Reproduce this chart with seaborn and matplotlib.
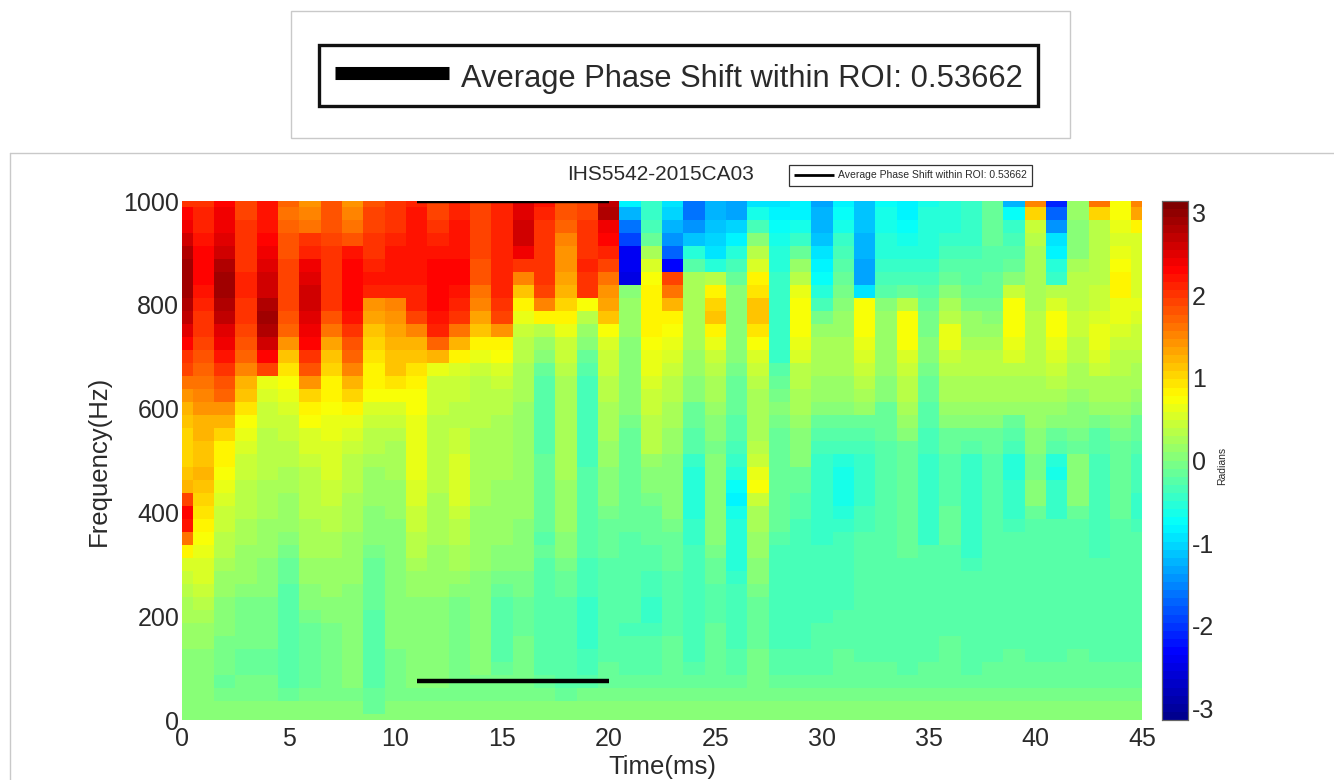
import matplotlib
matplotlib.use('Agg')
import matplotlib.pyplot as plt
from matplotlib.colors import LinearSegmentedColormap
from matplotlib.lines import Line2D
from matplotlib.patches import Rectangle
import numpy as np
import pandas as pd
import seaborn as sns

# Frequency rows, top to bottom, and time columns of the phase map
freqs = [1000, 975, 950, 925, 900, 875, 850, 825, 800, 775, 750, 725, 700, 675, 650, 625, 600, 575, 550, 525,
         500, 475, 450, 425, 400, 375, 350, 325, 300, 275, 250, 225, 200, 175, 150, 125, 100, 75, 50, 25, 0]
times = [0, 1, 2, 3, 4, 5, 6, 7, 8, 9, 10, 11, 12, 13, 14, 15, 16, 17, 18, 19, 20, 21, 22,
         23, 24, 25, 26, 27, 28, 29, 30, 31, 32, 33, 34, 35, 36, 37, 38, 39, 40, 41, 42, 43, 44, 45]

# Phase shift (radians) per time column, 1000 Hz first
t00 = [2.0, 2.3, 2.45, 2.6, 2.8, 2.9, 2.9, 2.9, 2.8, 2.7, 2.5, 2.35, 2.0, 1.9, 1.6, 1.4, 1.25, 1.1, 1.0, 1.0,
       1.0, 1.1, 1.2, 1.9, 2.3, 2.2, 1.6, .8, .55, .45, .35, .25, .2, .15, .1, .05, .05, .05, .05, .05, .05]
t01 = [2.0, 2.1, 2.15, 2.25, 2.3, 2.3, 2.3, 2.25, 2.15, 2.05, 2.0, 1.9, 1.8, 1.7, 1.6, 1.5, 1.4, 1.25, 1.2, 1.15,
       1.15, 1.2, 1.15, 1.05, .9, .8, .75, .65, .55, .5, .4, .3, .25, .15, .1, .05, .05, .05, .05, .05, .05]
t02 = [2.35, 2.4, 2.45, 2.55, 2.65, 2.75, 2.85, 2.9, 2.8, 2.7, 2.55, 2.4, 2.2, 2.0, 1.8, 1.7, 1.45, 1.2, 1.05, .85,
       .8, .75, .6, .5, .45, .4, .35, .3, .2, .15, .1, .05, .05, 0, -.05, -.05, -.05, -.1, -.05, 0, .05]
t03 = [1.95, 1.95, 2.0, 2.05, 2.05, 2.05, 2.1, 2.1, 2.05, 2.0, 1.95, 1.8, 1.7, 1.5, 1.25, 1.1, .9, .75, .6, .5,
       .45, .4, .35, .35, .3, .25, .2, .15, .1, .1, .05, -.05, -.05, -.05, -.05, -.1, -.1, -.05, -.05, 0, .05]
t04 = [2.2, 2.2, 2.25, 2.3, 2.4, 2.5, 2.6, 2.65, 2.8, 2.85, 2.75, 2.6, 2.3, 1.95, .6, .5, .45, .4, .35, .3,
       .3, .3, .25, .2, .2, .15, .15, .1, .05, .05, 0, -.05, -.05, -.05, -.05, -.1, -.1, -.05, -.05, 0, .05]
t05 = [1.7, 1.65, 1.7, 1.8, 1.85, 1.9, 1.9, 1.9, 1.95, 1.85, 1.7, 1.4, 1.1, .9, .7, .6, .5, .45, .4, .35,
       .3, .25, .2, .15, .1, .1, .05, -.05, -.1, -.15, -.2, -.2, -.25, -.25, -.25, -.25, -.2, -.2, -.15, 0, .05]
t06 = [1.45, 1.55, 1.65, 2.0, 2.1, 2.4, 2.55, 2.65, 2.6, 2.5, 2.4, 2.3, 2.0, 1.8, 1.4, 1.0, .8, .7, .55, .5,
       .4, .35, .35, .3, .3, .25, .25, .2, .15, .1, .05, 0, -.05, -.1, -.15, -.15, -.15, -.1, -.05, 0, .05]
t07 = [1.8, 1.8, 1.8, 1.9, 2.05, 2.05, 2.05, 2.05, 2.0, 1.8, 1.6, 1.3, 1.15, 1.0, .85, .8, .75, .65, .6, .55,
       .55, .5, .45, .4, .35, .3, .25, .2, .15, .15, .1, .05, 0, -.05, -.05, -.05, -.05, -.05, -.05, 0, .05]
t08 = [1.45, 1.5, 1.6, 1.8, 2.2, 2.3, 2.35, 2.35, 2.35, 2.2, 2.0, 1.85, 1.7, 1.5, 1.25, 1.05, .8, .65, .5, .4,
       .35, .3, .3, .25, .2, .2, .15, .15, .1, .1, .05, .05, 0, 0, 0, 0, 0, 0, -.05, 0, .05]
t09 = [1.85, 1.9, 1.95, 2.0, 2.05, 2.1, 2.2, 2.1, 1.4, 1.3, 1.15, 1.0, .95, .85, .8, .75, .5, .4, .35, .3,
       .2, .15, .15, .1, .05, 0, 0, -.05, -.1, -.1, -.15, -.15, -.2, -.25, -.25, -.25, -.25, -.2, -.1, -.1, .05]
t10 = [2.0, 2.05, 2.05, 2.15, 2.2, 2.2, 2.2, 2.15, 1.5, 1.45, 1.35, 1.25, 1.15, 1.1, .95, .7, .5, .4, .3, .25,
       .2, .2, .15, .1, .1, .05, .05, .05, 0, 0, 0, 0, 0, 0, 0, -.05, -.05, -.05, -.05, 0, .05]
t11 = [2.15, 2.2, 2.2, 2.2, 2.2, 2.2, 2.2, 2.15, 2.1, 1.9, 1.5, 1.25, 1.15, .95, .85, .75, .7, .65, .65, .65,
       .65, .6, .55, .5, .45, .4, .35, .3, .2, .15, .1, .05, .05, .05, .05, 0, 0, 0, -.05, 0, .05]
t12 = [1.9, 1.95, 2.0, 2.1, 2.25, 2.3, 2.3, 2.3, 2.3, 2.25, 2.1, 1.75, 1.2, .6, .45, .4, .4, .35, .35, .3,
       .3, .3, .3, .25, .25, .2, .2, .15, .15, .1, .1, .05, 0, 0, 0, 0, 0, 0, -.05, 0, .05]
t13 = [2.1, 2.15, 2.2, 2.2, 2.25, 2.3, 2.3, 2.2, 2.15, 2.05, 1.6, 1.2, .8, .55, .45, .4, .35, .35, .4, .45,
       .5, .55, .55, .5, .4, .35, .3, .25, .2, .15, .05, -.05, -.05, -.05, -.05, -.05, -.05, -.05, -.05, 0, .05]
t14 = [1.9, 1.9, 1.9, 1.9, 1.9, 1.85, 1.85, 1.65, 1.55, 1.35, 1.1, .8, .6, .45, .35, .3, .3, .3, .25, .25,
       .2, .2, .2, .2, .15, .15, .15, .1, .1, .05, 0, 0, 0, 0, 0, 0, 0, -.05, -.05, 0, .05]
t15 = [2.1, 2.15, 2.15, 2.15, 2.15, 2.15, 2.15, 2.1, 2.05, 1.9, 1.4, .85, .7, .55, .4, .35, .3, .25, .2, .2,
       .2, .2, .15, .15, .15, .1, .1, .05, 0, -.05, -.15, -.2, -.25, -.25, -.25, -.2, -.1, -.05, -.05, 0, .05]
t16 = [2.55, 2.55, 2.6, 2.6, 2.45, 2.0, 1.5, 1.1, .85, .65, .45, .35, .3, .25, .2, .2, .15, .15, .1, .1,
       .15, .15, .15, .1, .1, .05, 0, 0, 0, -.05, -.05, -.1, -.1, -.1, -.05, -.05, -.05, -.05, -.05, 0, .05]
t17 = [2.25, 2.15, 2.05, 2.05, 2.0, 2.0, 2.0, 1.9, 1.5, .8, .3, .1, 0, -.1, -.2, -.25, -.25, -.25, -.25, -.25,
       -.15, -.1, -.1, -.1, -.1, -.15, -.2, -.15, -.2, -.2, -.25, -.25, -.25, -.25, -.25, -.25, -.2, -.1, -.05, 0, .05]
t18 = [1.8, 1.8, 1.7, 1.55, 1.45, 1.4, 1.3, 1.25, 1.05, .8, .6, .45, .4, .3, .25, .2, .2, .2, .2, .2,
       .2, .2, .15, .15, .1, .1, .05, 0, -.05, -.1, -.15, -.2, -.2, -.25, -.25, -.25, -.25, -.2, -.1, 0, .05]
t19 = [1.95, 1.95, 2.0, 2.0, 2.05, 2.1, 2.05, 2.0, .7, .3, .15, .05, -.1, -.2, -.3, -.35, -.35, -.35, -.35, -.35,
       -.3, -.25, -.25, -.25, -.25, -.25, -.25, -.25, -.3, -.3, -.35, -.4, -.4, -.4, -.4, -.35, -.3, -.2, -.05, 0, .05]
t20 = [2.7, 2.75, 2.45, 2.35, 2.15, 1.95, 1.6, 1.45, 1.3, 1.1, .75, .55, .45, .4, .35, .3, .25, .2, .2, .15,
       .1, .05, 0, 0, -.05, -.1, -.15, -.15, -.2, -.25, -.25, -.25, -.25, -.25, -.25, -.2, -.15, -.1, -.05, 0, .05]
t21 = [-.85, -1.2, -1.6, -1.9, -2.4, -2.45, -2.5, .05, .1, .1, .1, .05, .05, .05, 0, 0, 0, -.05, -.1, -.1,
       -.1, -.1, -.15, -.15, -.15, -.15, -.2, -.2, -.25, -.25, -.25, -.25, -.25, -.3, -.25, -.25, -.2, -.15, -.05, 0, .05]
t22 = [-.45, -.4, -.3, -.1, .2, .5, .7, .8, .8, .8, .8, .75, .65, .6, .5, .45, .4, .35, .3, .3,
       .1, .05, 0, -.05, -.1, -.1, -.15, -.2, -.25, -.3, -.35, -.4, -.4, -.35, -.25, -.25, -.25, -.15, -.05, 0, .05]
t23 = [-.95, -1.05, -1.25, -1.45, -1.7, -2.3, 1.9, 1.6, 1.25, .8, .7, .65, .5, .4, .35, .3, .25, .2, .15, .15,
       .05, .05, .05, 0, 0, -.05, -.1, -.1, -.15, -.2, -.2, -.25, -.25, -.2, -.15, -.15, -.15, -.15, -.05, 0, .05]
t24 = [-1.6, -1.6, -1.45, -1.1, -.5, -.2, .2, .25, .25, .25, .25, .2, .15, .1, .05, 0, -.1, -.15, -.2, -.25,
       -.4, -.55, -.55, -.55, -.55, -.45, -.45, -.35, -.35, -.35, -.3, -.3, -.3, -.35, -.35, -.3, -.25, -.15, -.05, 0, .05]
t25 = [-1.25, -1.2, -1.1, -1.05, -.9, -.5, .3, .85, 1.05, 1.1, .8, .65, .45, .35, .25, .2, .1, .05, 0, -.05,
       0, .05, .05, .05, .05, 0, 0, -.05, -.1, -.15, -.2, -.2, -.2, -.15, -.15, -.15, -.15, -.1, -.05, 0, .05]
t26 = [-1.35, -1.3, -1.05, -.8, -.55, -.3, -.1, .05, .05, .05, .05, .05, 0, -.05, -.1, -.15, -.15, -.2, -.25, -.3,
       -.4, -.55, -.7, -.8, -.65, -.55, -.5, -.5, -.5, -.4, -.35, -.35, -.3, -.3, -.3, -.2, -.2, -.1, -.05, 0, .05]
t27 = [-.9, -.6, -.3, 0, .3, .55, .85, .95, 1.15, 1.15, .95, .75, .5, .4, .3, .25, .25, .2, .2, .3,
       .4, .65, .75, .45, .25, .2, .15, .1, .05, 0, -.05, -.1, -.1, -.1, -.1, -.05, -.05, -.05, -.05, 0, .05]
t28 = [-.95, -.85, -.7, -.6, -.55, -.5, -.45, -.4, -.45, -.45, -.45, -.45, -.4, -.2, -.1, -.05, 0, -.05, -.1, -.15,
       -.15, -.15, -.15, -.15, -.15, -.15, -.25, -.3, -.3, -.3, -.3, -.3, -.3, -.3, -.3, -.25, -.2, -.15, -.05, 0, .05]
t29 = [-.85, -.85, -.6, -.4, -.1, .1, .35, .6, .75, .75, .7, .6, .5, .35, .3, .25, .2, .1, .05, .05,
       0, -.1, -.15, -.2, -.25, -.3, -.3, -.3, -.3, -.3, -.3, -.3, -.3, -.3, -.3, -.25, -.25, -.15, -.05, 0, .05]
t30 = [-1.3, -1.25, -1.2, -1.15, -.9, -.85, -.75, -.5, -.3, -.05, .1, .2, .2, .2, .15, .1, 0, -.1, -.2, -.3,
       -.45, -.45, -.45, -.45, -.4, -.4, -.4, -.35, -.35, -.35, -.3, -.3, -.3, -.25, -.25, -.25, -.2, -.15, -.05, 0, .05]
t31 = [-.85, -.75, -.6, -.45, -.35, -.25, -.15, -.05, .05, .1, .15, .2, .25, .25, .15, .1, 0, -.15, -.25, -.35,
       -.55, -.6, -.6, -.6, -.5, -.45, -.35, -.35, -.35, -.35, -.3, -.3, -.25, -.25, -.2, -.15, -.15, -.1, -.05, 0, .05]
t32 = [-1.1, -1.1, -1.15, -1.25, -1.25, -1.35, -1.35, -.9, .7, .75, .7, .6, .5, .4, .3, .2, .1, -.1, -.2, -.35,
       -.45, -.45, -.45, -.45, -.35, -.3, -.25, -.25, -.25, -.25, -.25, -.25, -.25, -.25, -.25, -.2, -.15, -.1, -.05, 0, .05]
t33 = [-.7, -.65, -.6, -.55, -.5, -.4, -.35, -.2, 0, .1, .15, .15, .15, .1, .05, 0, -.1, -.15, -.15, -.2,
       -.25, -.2, -.2, -.2, -.2, -.2, -.2, -.25, -.25, -.25, -.25, -.25, -.25, -.25, -.25, -.25, -.15, -.1, -.05, 0, .05]
t34 = [-.85, -.8, -.7, -.6, -.55, -.45, -.35, -.15, .35, .7, .75, .7, .55, .45, .35, .3, .2, .1, 0, -.1,
       -.15, -.15, -.1, -.1, -.1, -.1, -.1, -.15, -.25, -.25, -.25, -.25, -.25, -.25, -.25, -.25, -.2, -.1, -.05, 0, .05]
t35 = [-.6, -.55, -.5, -.5, -.5, -.4, -.3, -.2, -.1, -.05, -.05, 0, 0, -.05, -.1, -.15, -.2, -.2, -.3, -.35,
       -.4, -.4, -.4, -.4, -.4, -.4, -.4, -.25, -.25, -.25, -.25, -.25, -.25, -.25, -.2, -.2, -.15, -.1, -.05, 0, .05]
t36 = [-.55, -.5, -.5, -.45, -.35, -.25, -.1, .05, .25, .35, .65, .6, .45, .35, .25, .2, .1, 0, -.1, -.15,
       -.2, -.2, -.2, -.2, -.15, -.15, -.15, -.25, -.25, -.25, -.25, -.25, -.25, -.2, -.15, -.15, -.15, -.1, -.05, 0, .05]
t37 = [-.45, -.45, -.4, -.4, -.3, -.25, -.2, -.1, -.05, .1, .15, .25, .3, .3, .25, .2, .1, 0, -.1, -.2,
       -.4, -.4, -.4, -.4, -.4, -.4, -.4, -.4, -.3, -.25, -.25, -.25, -.25, -.25, -.2, -.2, -.2, -.1, -.05, 0, .05]
t38 = [-.1, -.1, -.1, -.15, -.2, -.2, -.15, -.1, -.05, 0, .1, .2, .3, .3, .25, .2, .1, 0, -.1, -.15,
       -.2, -.2, -.2, -.2, -.2, -.2, -.25, -.25, -.25, -.25, -.25, -.25, -.25, -.25, -.2, -.2, -.15, -.1, -.05, 0, .05]
t39 = [-1.2, -.75, -.4, -.3, -.2, -.1, 0, .45, .75, .75, .7, .65, .5, .35, .25, .2, .1, -.1, -.2, -.3,
       -.55, -.55, -.4, -.4, -.4, -.3, -.25, -.25, -.25, -.25, -.25, -.25, -.25, -.25, -.2, -.15, -.15, -.1, -.05, 0, .05]
t40 = [1.5, 1.0, .4, .3, .25, .2, .2, .2, .2, .3, .35, .35, .35, .3, .25, .2, .1, .1, 0, 0,
       -.05, -.05, 0, 0, -.1, -.2, -.25, -.25, -.25, -.25, -.25, -.25, -.25, -.25, -.25, -.2, -.15, -.1, -.05, 0, .05]
t41 = [-2.1, -1.7, -1.4, -.9, -.8, -.55, -.4, .35, .5, .7, .7, .6, .5, .4, .3, .2, .1, 0, -.15, -.25,
       -.5, -.6, -.4, -.4, -.4, -.25, -.25, -.25, -.25, -.25, -.25, -.25, -.25, -.25, -.25, -.2, -.15, -.1, -.05, 0, .05]
t42 = [.1, .1, .05, 0, .05, .25, .3, .35, .35, .4, .4, .35, .3, .25, .2, .1, .05, 0, -.05, -.1,
       .05, 0, 0, 0, -.15, -.25, -.25, -.25, -.25, -.25, -.25, -.25, -.25, -.25, -.2, -.15, -.1, -.1, -.05, 0, .05]
t43 = [1.6, 1.0, .3, .3, .3, .3, .35, .45, .45, .5, .6, .65, .5, .4, .25, .2, .1, -.05, -.2, -.25,
       -.35, -.35, -.35, -.35, -.35, -.35, -.3, -.3, -.25, -.25, -.25, -.25, -.25, -.25, -.25, -.2, -.15, -.1, -.05, 0, .05]
t44 = [.7, .7, .6, .55, .6, .7, .8, .8, .65, .6, .5, .45, .35, .3, .25, .2, .1, 0, -.05, -.1,
       -.1, -.1, -.1, -.1, -.1, -.2, -.25, -.25, -.25, -.25, -.25, -.25, -.25, -.25, -.2, -.2, -.15, -.1, -.05, 0, .05]
t45 = [1.5, 1.3, .85, .5, .5, .5, .5, .55, .6, .55, .45, .4, .3, .25, .2, .1, 0, -.1, -.15, -.25,
       -.35, -.35, -.35, -.4, -.4, -.3, -.25, -.25, -.25, -.25, -.25, -.25, -.25, -.25, -.25, -.25, -.15, -.1, -.05, 0, .05]

roi_times = [11, 20]
roi_freqs = [75, 1000]
x_ticks = [0, 5, 10, 15, 20, 25, 30, 35, 40, 45]
y_ticks = [0, 200, 400, 600, 800, 1000]
cbar_ticks = [-3, -2, -1, 0, 1, 2, 3]
legend_label = 'Average Phase Shift within ROI: 0.53662'
title = 'IHS5542-2015CA03'

W, H = 1334, 780
text_color = '#2a2a2a'
frame_color = '#c9c9c9'

# MATLAB style jet, 64 steps
jet_nodes = [(0, (0, 0, 0.5625)), (0.125, (0, 0, 1)), (0.375, (0, 1, 1)),
             (0.625, (1, 1, 0)), (0.875, (1, 0, 0)), (1, (0.5, 0, 0))]
jet64 = LinearSegmentedColormap.from_list('jet64', jet_nodes, N=64)

sns.set_theme(style='white')
plt.rcParams['font.family'] = ['Liberation Sans', 'DejaVu Sans']
plt.rcParams['text.color'] = text_color
plt.rcParams['axes.labelcolor'] = text_color
plt.rcParams['xtick.color'] = text_color
plt.rcParams['ytick.color'] = text_color


def px_box(x0, y0, x1, y1):
    # pixel box (y downwards) to figure fractions
    return [x0 / W, 1 - y1 / H, (x1 - x0) / W, (y1 - y0) / H]


fig = plt.figure(figsize=(W / 100, H / 100), dpi=100, facecolor='white')
ax = fig.add_axes(px_box(182, 201, 1142, 720))
cax = fig.add_axes(px_box(1162, 201, 1188, 720))

columns = [t00, t01, t02, t03, t04, t05, t06, t07, t08, t09, t10, t11, t12, t13, t14, t15,
           t16, t17, t18, t19, t20, t21, t22, t23, t24, t25, t26, t27, t28, t29, t30, t31,
           t32, t33, t34, t35, t36, t37, t38, t39, t40, t41, t42, t43, t44, t45]
phase = pd.DataFrame(np.array(columns).T, index=freqs, columns=times)

sns.heatmap(phase, ax=ax, cbar_ax=cax, cmap=jet64, vmin=-np.pi, vmax=np.pi,
            xticklabels=False, yticklabels=False, linewidths=0)


# heatmap cells sit between integers, so data values map to cell centres
def time_pos(t):
    return times.index(t) + 0.5


def freq_pos(f):
    return freqs.index(f) + 0.5


ax.set_xlim(time_pos(0), time_pos(45))
ax.set_ylim(freq_pos(0), freq_pos(1000))
ax.set_xticks([time_pos(t) for t in x_ticks])
ax.set_xticklabels(x_ticks, fontsize=18, rotation=0)
ax.set_yticks([freq_pos(f) for f in y_ticks])
ax.set_yticklabels(y_ticks, fontsize=18, rotation=0)
ax.tick_params(axis='x', length=0, pad=5)
ax.tick_params(axis='y', length=0, pad=2)
ax.set_xlabel('Time(ms)', fontsize=18.5, labelpad=3)
ax.set_ylabel('Frequency(Hz)', fontsize=18.5, labelpad=9)

# ROI limits
for f in roi_freqs:
    ax.plot([time_pos(t) for t in roi_times], [freq_pos(f), freq_pos(f)], color='black', lw=3.2,
            solid_capstyle='butt')

# colorbar
cax.set_yticks(cbar_ticks)
cax.set_yticklabels(cbar_ticks, fontsize=18)
cax.tick_params(axis='y', which='both', left=True, right=True, direction='in', length=4, width=0.8,
                color='#333333', pad=3)
for spine in cax.spines.values():
    spine.set_visible(True)
    spine.set_color('#666666')
    spine.set_linewidth(0.8)
fig.text(1222 / W, 1 - 466 / H, 'Radians', fontsize=7.5, rotation=90, ha='center', va='center')

fig.text(661 / W, 1 - 174 / H, title, fontsize=15, ha='center', va='center')

# page frames around the pasted pictures
fig.add_artist(Rectangle((291 / W, 1 - 138 / H), 779 / W, 127 / H, transform=fig.transFigure,
                         fill=False, edgecolor=frame_color, linewidth=1))
fig.add_artist(Line2D([10 / W, 1], [1 - 153 / H, 1 - 153 / H], color=frame_color, lw=1))
fig.add_artist(Line2D([10 / W, 10 / W], [1 - 153 / H, 0], color=frame_color, lw=1))

# zoomed legend on top and the small one beside the title
big_handle = Line2D([], [], color='black', lw=9.4, solid_capstyle='butt')
big_legend = fig.legend([big_handle], [legend_label], loc='center', bbox_to_anchor=(678.5 / W, 1 - 75.5 / H),
                        fontsize=22.2, frameon=True, fancybox=False, framealpha=1, edgecolor='#111111',
                        handlelength=3.7, handletextpad=0.39, borderpad=0.5)
big_legend.get_frame().set_linewidth(2.4)
big_legend.get_texts()[0].set_position((0, -4))
small_handle = Line2D([], [], color='black', lw=2, solid_capstyle='butt')
small_legend = fig.legend([small_handle], [legend_label], loc='center', bbox_to_anchor=(910.5 / W, 1 - 175.5 / H),
                          fontsize=7.5, frameon=True, fancybox=False, framealpha=1, edgecolor='#333333',
                          handlelength=3.75, handletextpad=0.39, borderpad=0.55)
small_legend.get_frame().set_linewidth(0.9)

fig.savefig('out.png', dpi=100, facecolor='white')
